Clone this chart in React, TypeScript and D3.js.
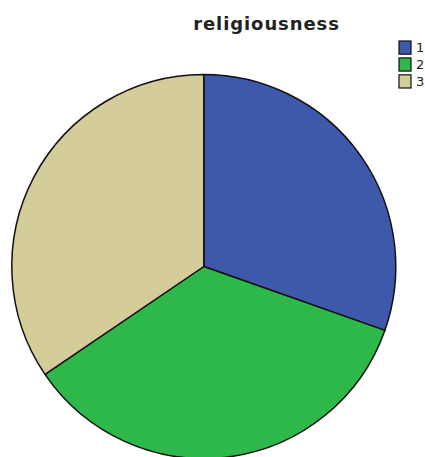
import React from "react";
import * as d3 from "d3";

const categories = ["1", "2", "3"];
const values = [30.4, 35.1, 34.5];
const colors = ["#3e58ab", "#2eb84a", "#d4cd9a"];
const title = "religiousness";

export default function App() {
  const W = 425, H = 457;
  const cx = 203.8, cy = 266.5, r = 192;
  const pie = d3.pie<number>().sort(null).value((d) => d)(values);
  const arc = d3.arc<d3.PieArcDatum<number>>().innerRadius(0).outerRadius(r);
  const legendY = d3.scaleBand<string>().domain(categories).range([41, 88]).paddingInner(0.22);
  return (
    <svg width={W} height={H} style={{ position: "absolute", left: 0, top: 0, background: "#fff" }}>
      <text x={266.5} y={30} textAnchor="middle" fontFamily="DejaVu Sans" fontWeight="bold" fontSize={18} letterSpacing={0.9} fill="#222">
        {title}
      </text>
      <g transform={`translate(${cx},${cy})`}>
        {pie.map((p, i) => (
          <path key={i} d={arc(p) || ""} fill={colors[i]} stroke="#111" strokeWidth={1.5} strokeLinejoin="round" />
        ))}
      </g>
      {categories.map((c, i) => (
        <g key={c}>
          <rect x={399} y={legendY(c)!} width={12} height={legendY.bandwidth()} fill={colors[i]} stroke="#111" strokeWidth={1.2} />
          <text x={416} y={legendY(c)! + legendY.bandwidth() / 2 + 4.5} fontFamily="DejaVu Sans" fontSize={13} fill="#222">
            {c}
          </text>
        </g>
      ))}
    </svg>
  );
}
